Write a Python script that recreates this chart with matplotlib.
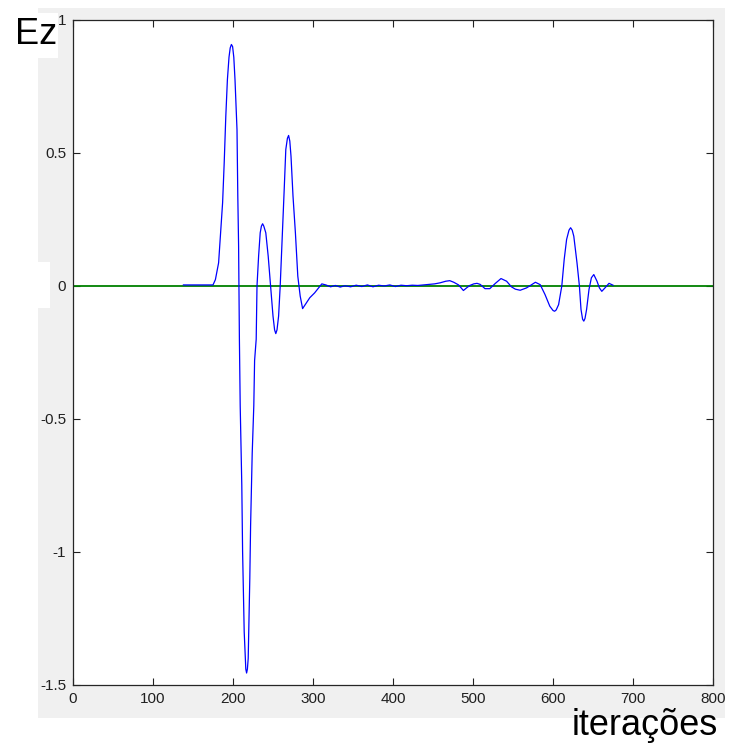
import matplotlib.pyplot as plt
from matplotlib.patches import Rectangle

iters = [138, 175, 178, 182, 184, 187, 189, 191, 193, 195, 196.5, 198, 199.5, 201, 202.5,
         205, 206, 207,
         208, 209, 211, 212, 214, 216, 217, 218, 219, 220, 221, 222, 224, 226, 227, 229,
         230, 232, 234, 235.5, 237, 238.5, 241, 244, 247, 250, 252, 253.5, 255, 257, 259,
         262, 264, 266, 268, 269.5, 271, 272.5, 275,
         278, 281, 284, 287, 292, 296, 302, 307, 311,
         316, 322, 328, 334, 340, 347, 354, 361, 368, 375, 382, 389, 396, 403, 410, 417,
         424, 431, 438, 445, 452,
         459, 466, 471, 476, 482, 488, 492, 496, 501, 505, 509, 515, 521, 528, 535, 542,
         548, 553, 559, 567, 578, 584, 590, 596, 600, 602, 604, 607, 611, 614, 617, 620,
         622, 624, 626, 630,
         633, 635, 637, 638.5, 640, 642, 645, 648, 651, 655, 658, 661, 665, 670, 675]
ez = [0.004, 0.004, 0.024, 0.087, 0.175, 0.313, 0.463, 0.638, 0.776, 0.86, 0.895, 0.908,
      0.9, 0.86, 0.776,
      0.588, 0.338, 0.15,
      -0.2, -0.45, -0.75, -1.0, -1.3, -1.44, -1.455, -1.44, -1.40, -1.25, -1.1, -0.9,
      -0.63, -0.45, -0.28, -0.2,
      0.0, 0.112, 0.2, 0.225, 0.234, 0.225, 0.2, 0.112, 0.0, -0.113, -0.165, -0.179,
      -0.165, -0.113, 0.0,
      0.212, 0.363, 0.513, 0.555, 0.566, 0.545, 0.488, 0.338,
      0.2, 0.037, -0.038, -0.085, -0.062, -0.044, -0.026, -0.007, 0.008,
      0.004, -0.003, 0.002, -0.004, 0.001, -0.003, 0.003, -0.002, 0.004, -0.003, 0.003,
      0.0, 0.004, -0.002, 0.003, 0.001, 0.003, 0.002, 0.004, 0.006, 0.008,
      0.012, 0.018, 0.02, 0.014, 0.004, -0.017, -0.007, 0.002, 0.008, 0.01, 0.006, -0.01,
      -0.01, 0.01, 0.028, 0.018,
      -0.003, -0.012, -0.016, -0.007, 0.014, 0.005, -0.032, -0.076, -0.092, -0.095,
      -0.09, -0.07, 0.0, 0.1, 0.175, 0.21, 0.219, 0.21, 0.187, 0.087,
      0.0, -0.088, -0.125, -0.132, -0.122, -0.088, -0.013, 0.031, 0.043, 0.018, -0.007,
      -0.02, -0.007, 0.01, 0.003]

xticks = [0, 100, 200, 300, 400, 500, 600, 700, 800]
yticks = [-1.5, -1, -0.5, 0, 0.5, 1]
ytick_labels = ['-1.5', '-1', '-0.5', '0', '0.5', '1']

W, H = 731, 744
fig = plt.figure(figsize=(W / 100, H / 100), dpi=100, facecolor='white')

# matlab-style grey figure area plus the white patches from the screenshot
for (x0, y0, w, h, c) in [(38, 8, 687, 710, '#f0f0f0'),
                          (0, 13, 58, 45, 'white'),
                          (0, 262, 50, 46, 'white')]:
    fig.patches.append(Rectangle((x0 / W, 1 - (y0 + h) / H), w / W, h / H,
                                 transform=fig.transFigure, facecolor=c,
                                 edgecolor='none', zorder=-5))

ax = fig.add_axes([73 / W, 1 - 685 / H, 640 / W, 665 / H])
ax.set_facecolor('white')
ax.plot([0, 800], [0, 0], color='#008000', lw=1.3)
ax.plot(iters, ez, color='#0000ff', lw=0.9)

ax.set_xlim(0, 800)
ax.set_ylim(-1.5, 1)
ax.set_xticks(xticks)
ax.set_yticks(yticks)
ax.set_yticklabels(ytick_labels)
ax.tick_params(direction='in', length=5, width=0.8, top=True, right=True,
               labelsize=11, pad=5, colors='#202020')
for lbl in ax.get_xticklabels() + ax.get_yticklabels():
    lbl.set_family(['Liberation Sans Narrow', 'Liberation Sans'])
for sp in ax.spines.values():
    sp.set_linewidth(0.9)
    sp.set_color('#262626')

fig.text(15 / W, 1 - 35 / H, 'Ez', fontsize=26, family='Liberation Sans',
         va='center', ha='left')
fig.text(718 / W, 1 - 735 / H, 'iterações', fontsize=26, family='Liberation Sans',
         va='baseline', ha='right')

fig.savefig('out.png', dpi=100, facecolor='white')
